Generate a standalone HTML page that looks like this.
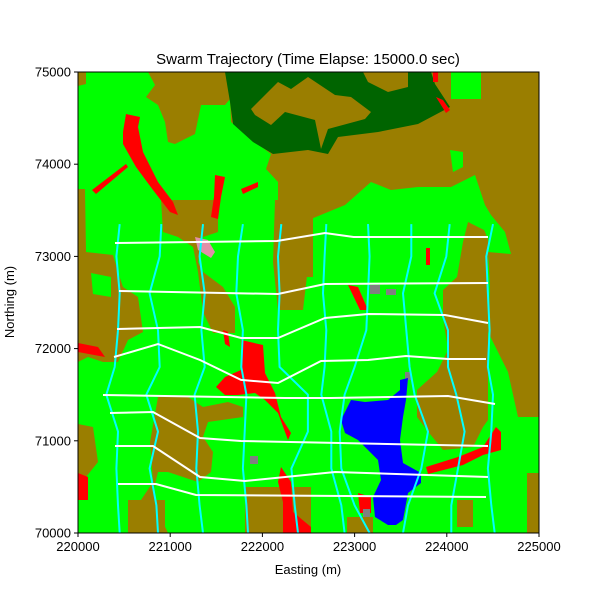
<!DOCTYPE html>
<html><head><meta charset="utf-8"><style>
html,body{margin:0;padding:0;background:#fff;}
svg{display:block;font-family:"Liberation Sans",sans-serif;}
</style></head><body>
<svg id="chart" width="600" height="600" viewBox="0 0 600 600">
<text x="308" y="64" text-anchor="middle" font-size="15" fill="#000">Swarm Trajectory (Time Elapse: 15000.0 sec)</text>
<clipPath id="pc"><rect x="0" y="0" width="461" height="461"/></clipPath>
<g transform="translate(78,72)" clip-path="url(#pc)">
<rect x="0" y="0" width="461" height="461" fill="#00ff00"/>
<g fill="#9a7e00">
<polygon points="70,0 461,0 461,345 440,345 430,300 410,260 412,215 410,180 433,182 427,160 413,143 407,133 397,103 373,115 340,115 313,118 293,110 267,133 233,147 207,143 200,133 200,110 188,97 193,82 177,70 153,50 152,27 147,33 123,33 117,62 97,72 90,70 87,50 80,33 68,25 77,13"/>
<polygon points="0,117 7,117 8,180 35,183 40,200 45,215 60,225 65,260 50,268 40,290 25,290 10,285 0,290"/>
<polygon points="0,352 15,355 20,390 8,405 0,405"/>
<polygon points="83,128 140,128 140,160 125,165 120,190 125,200 145,215 157,235 157,261 135,261 125,240 120,200 115,175 100,165 85,160"/>
<polygon points="80,325 110,325 125,335 150,330 165,335 165,345 130,350 125,365 135,380 133,400 120,410 105,405 90,400 80,400 75,420 80,440 90,461 50,461 55,440 75,410 72,370"/>
<polygon points="197,128 233,128 233,170 225,238 200,238 195,190"/>
<polygon points="222,128 235,128 235,205 222,205"/>
<polygon points="390,150 410,160 410,348 405,355 395,375 365,378 352,362 339,345 339,318 359,300 370,278 365,245 365,218 379,205 385,170"/>
<polygon points="167,415 233,415 233,461 167,461"/>
<polygon points="379,428 395,428 395,455 379,455"/>
<polygon points="449,401 461,401 461,461 449,461"/>
<polygon points="269,445 295,445 295,461 269,461"/>
<polygon points="50,428 87,428 87,461 50,461"/>
<polygon points="0,0 8,0 8,12 0,14"/>
</g>
<g fill="#00ff00">
<polygon points="373,0 403,0 403,27 373,27"/>
<polygon points="372,78 385,80 385,95 375,100"/>
<polygon points="13,201 33,205 33,225 15,222"/>
<polygon points="405,155 420,160 430,175 415,180"/>
</g>
<polygon points="147,0 353,0 357,12 372,35 340,52 300,60 260,65 250,82 230,78 195,82 175,70 155,52 152,30" fill="#006400"/>
<g fill="#9a7e00">
<polygon points="173,37 200,10 213,17 230,5 257,23 273,25 293,40 287,47 250,57 243,77 237,48 207,40 193,53 177,43"/>
<polygon points="285,0 330,0 330,15 310,20 290,10"/>
</g>
<g fill="#ff0000">
<polygon points="48,42 62,45 60,55 65,80 80,110 95,130 100,143 92,140 75,118 58,95 45,72 45,60"/>
<polygon points="14,118 48,92 50,95 18,122"/>
<polygon points="137,103 147,105 143,125 140,147 133,145 136,125"/>
<polygon points="163,117 180,110 180,115 165,122"/>
<polygon points="355,0 360,0 360,10 355,10"/>
<polygon points="358,25 365,28 372,38 368,41"/>
<polygon points="145,258 150,260 152,275 147,272"/>
<polygon points="163,268 185,273 187,301 197,321 203,345 213,361 210,368 200,341 187,328 177,321 160,323 147,323 138,315 147,305 163,298"/>
<polygon points="203,395 213,410 215,440 233,455 233,461 205,461 205,430 200,410"/>
<polygon points="348,395 380,385 405,375 418,355 423,360 423,378 405,383 385,393 350,402"/>
<polygon points="270,213 280,215 290,238 282,238"/>
<polygon points="348,176 352,176 352,193 348,193"/>
<polygon points="0,271 20,275 27,285 0,280"/>
<polygon points="0,401 10,405 10,428 0,428"/>
<polygon points="280,421 293,425 293,441 282,441"/>
</g>
<polygon points="117,165 130,168 137,180 133,186 120,178" fill="#e090a8"/>
<g fill="#808080">
<polygon points="292,213 302,213 302,222 292,222"/>
<polygon points="308,217 318,217 318,223 308,223"/>
<polygon points="172,384 180,384 180,392 172,392"/>
<polygon points="327,300 333,300 333,308 327,308"/>
<polygon points="285,437 292,437 292,445 285,445"/>
</g>
<polygon points="322,308 330,306 328,328 325,345 322,368 325,391 343,401 343,411 330,421 325,448 318,453 310,453 297,445 295,425 303,408 300,388 280,368 267,361 263,348 273,328 287,330 310,328 322,318" fill="#0000ff"/>
<g id="trails"></g>
</g>
<rect x="78" y="72" width="461" height="461" fill="none" stroke="#000" stroke-width="1"/>
<g id="axes" font-size="13" fill="#000"></g>
<text x="308" y="574" text-anchor="middle" font-size="13">Easting (m)</text>
<text transform="translate(14,302) rotate(-90)" text-anchor="middle" font-size="13">Northing (m)</text>
</svg>
<script>
const xTicks = [220000, 221000, 222000, 223000, 224000, 225000];
const yTicks = [70000, 71000, 72000, 73000, 74000, 75000];
// white swarm cross-lines: [easting, northing] pairs
const whiteLine1 = [[220401,73145],[222158,73167],[222679,73254],[222989,73210],[224447,73210]];
const whiteLine2 = [[220445,72625],[222169,72592],[222679,72701],[224447,72711]];
const whiteLine3 = [[220423,72213],[221323,72234],[221768,72115],[222169,72115],[222679,72332],[223145,72375],[223980,72364],[224447,72278]];
const whiteLine4 = [[220390,71909],[220868,72050],[221323,71876],[221768,71660],[222169,71627],[222636,71866],[223145,71876],[223557,71920],[224013,71887],[224425,71887]];
const whiteLine5 = [[220271,71497],[222245,71464],[222744,71464],[224013,71486],[224523,71399]];
const whiteLine6 = [[220347,71302],[220813,71312],[221323,71030],[221768,70998],[224447,70944]];
const whiteLine7 = [[220401,70944],[220813,70944],[221323,70607],[221811,70564],[222788,70662],[224447,70607]];
const whiteLine8 = [[220434,70531],[220846,70531],[221280,70412],[224425,70390]];
// cyan agent paths: eastings sampled at these northings
const cyanNorthings = [73350,73000,72600,72200,71800,71500,71100,70700,70300,70000];
const cyanA = [220452,220416,220452,220434,220398,220307,220434,220416,220434,220452];
const cyanB = [220904,220886,220777,220868,220886,220741,220868,220777,220850,220868];
const cyanC = [221356,221319,221374,221338,221374,221265,221301,221283,221319,221356];
const cyanD = [221789,221735,221717,221789,221771,221826,221808,221789,221826,221844];
const cyanE = [222205,222169,222187,222169,222187,222494,222494,222314,222350,222386];
const cyanF = [222693,222675,222657,222693,222675,222639,222747,222747,222856,222892];
const cyanG = [223145,223163,223145,223127,223000,222892,222838,222856,223000,223163];
const cyanH = [223615,223615,223525,223561,223597,223651,223796,223723,223579,223525];
const cyanI = [224031,223995,223868,224013,224013,224103,224193,224121,224049,224049];
const cyanJ = [224501,224428,224446,224464,224446,224501,224483,224446,224483,224519];

const X0=220000, X1=225000, Y0=70000, Y1=75000, W=461, H=461;
function xs(v){return (v-X0)/(X1-X0)*W;}
function ys(v){return H-(v-Y0)/(Y1-Y0)*H;}
const NS='http://www.w3.org/2000/svg';
const trails=document.getElementById('trails');
const cyans=[cyanA,cyanB,cyanC,cyanD,cyanE,cyanF,cyanG,cyanH,cyanI,cyanJ];
cyans.forEach((arr,i)=>{
  const p=document.createElementNS(NS,'polyline');
  p.setAttribute('points',arr.map((e,j)=>xs(e).toFixed(1)+','+ys(cyanNorthings[j]).toFixed(1)).join(' '));
  p.setAttribute('fill','none');p.setAttribute('stroke','#00ffff');p.setAttribute('stroke-width','2');
  p.setAttribute('stroke-linejoin','round');
  
  
  trails.appendChild(p);
});
const whites=[whiteLine1,whiteLine2,whiteLine3,whiteLine4,whiteLine5,whiteLine6,whiteLine7,whiteLine8];
whites.forEach((arr,i)=>{
  const p=document.createElementNS(NS,'polyline');
  p.setAttribute('points',arr.map(d=>xs(d[0]).toFixed(1)+','+ys(d[1]).toFixed(1)).join(' '));
  p.setAttribute('fill','none');p.setAttribute('stroke','#ffffff');p.setAttribute('stroke-width','2');
  
  
  trails.appendChild(p);
});
const axes=document.getElementById('axes');
xTicks.forEach(v=>{
  const x=78+xs(v);
  const l=document.createElementNS(NS,'line');
  l.setAttribute('x1',x);l.setAttribute('x2',x);l.setAttribute('y1',533);l.setAttribute('y2',537);l.setAttribute('stroke','#000');
  
  
  axes.appendChild(l);
  const t=document.createElementNS(NS,'text');
  t.setAttribute('x',x);t.setAttribute('y',551);t.setAttribute('text-anchor','middle');t.textContent=v;
  
  
  axes.appendChild(t);
});
yTicks.forEach(v=>{
  const y=72+ys(v);
  const l=document.createElementNS(NS,'line');
  l.setAttribute('x1',74);l.setAttribute('x2',78);l.setAttribute('y1',y);l.setAttribute('y2',y);l.setAttribute('stroke','#000');
  
  
  axes.appendChild(l);
  const t=document.createElementNS(NS,'text');
  t.setAttribute('x',71);t.setAttribute('y',y+4.5);t.setAttribute('text-anchor','end');t.textContent=v;
  
  
  axes.appendChild(t);
});
</script>
</body></html>
